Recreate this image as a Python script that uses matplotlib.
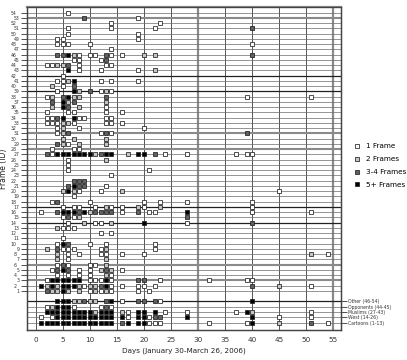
#Frame ID vs day scatter, marker shade = number of frames
import matplotlib
matplotlib.use('Agg')
import matplotlib.pyplot as plt
from matplotlib.lines import Line2D

#frame rows -> days, one dict per frame-count level
one_frame = {54: [6], 53: [19], 52: [14, 23], 51: [6, 14, 22], 50: [6, 19],
             49: [4, 5, 19], 48: [4, 5, 6, 10, 40], 47: [14],
             46: [8, 10, 11, 14, 16], 45: [7, 8, 12], 44: [2, 3, 8, 13, 14],
             43: [8, 12, 19], 42: [5], 41: [4, 5, 12, 14, 19], 40: [5],
             39: [4, 12, 14], 38: [2, 39, 51], 36: [13], 35: [2, 6, 7, 13, 16],
             34: [2, 3, 8, 9, 13, 14], 33: [2, 3, 4, 7, 13, 14, 16],
             32: [4, 8, 20], 31: [4, 12, 14], 29: [6], 28: [3, 7, 8],
             27: [3, 24, 28, 37, 39, 40], 26: [6], 25: [6], 24: [6, 21],
             23: [14], 21: [13], 20: [8, 12, 45], 19: [7],
             18: [3, 10, 20, 23, 28, 40], 17: [5, 7, 8, 11, 14, 16, 20, 40],
             16: [1, 16, 21, 22, 40, 51], 15: [5, 7], 14: [6, 11, 12, 28],
             13: [5, 6, 7], 12: [12, 14], 11: [5], 10: [4, 10, 13, 22],
             9: [5, 6, 7, 12, 22], 8: [6, 8, 12, 13, 16, 20, 54], 7: [6],
             6: [4, 6, 10, 11], 5: [3, 8, 10, 16], 4: [4, 6, 8, 10, 14],
             3: [2, 10, 11, 12, 14, 23, 32, 39, 40],
             2: [9, 14, 16, 19, 20, 22, 51], 1: [10, 12, 14, 19, 21],
             -1: [16, 23], -2: [2, 7, 12, 14], -3: [17, 24, 28, 37, 51],
             -4: [1, 3, 17, 21, 45, 51], -5: [21, 22, 23, 32, 39, 54]}

two_frames = {46: [7, 20, 22], 44: [4, 5], 43: [22], 41: [6], 40: [3],
              39: [8, 13], 38: [3, 7, 8], 37: [6, 13], 36: [3, 8], 33: [5, 6],
              32: [5], 31: [5], 30: [5, 7, 13], 29: [5, 8, 13], 27: [11, 17],
              26: [13], 20: [5, 7, 16], 17: [13, 19, 23], 16: [10], 15: [8],
              14: [9, 14], 13: [4], 9: [2, 13], 8: [4, 51], 7: [4, 13], 6: [13],
              5: [12, 14], 4: [13], 2: [2, 4, 8, 10, 11, 45],
              1: [3, 4, 6, 8, 11, 13], -1: [7, 8, 10, 11], -2: [3],
              -3: [11, 16, 40], -5: [45]}

three_four_frames = {53: [9], 51: [40], 46: [4, 5, 13, 40], 45: [13], 44: [6],
                     40: [7], 39: [10], 38: [5, 13], 37: [3, 7], 36: [6], 34: [4],
                     31: [6, 13, 39], 29: [4], 27: [2, 12, 22], 22: [7, 8, 9],
                     21: [6, 8, 9], 18: [4], 16: [4, 8, 11, 12, 13, 14, 19],
                     15: [6, 28], 14: [40], 10: [6], 9: [4], 6: [5], 5: [4, 6, 13],
                     3: [19, 20], 2: [12, 40], 1: [2], -1: [9, 13, 19, 20, 22],
                     -2: [13], -4: [22, 23], -5: [16, 51]}

five_plus_frames = {46: [6], 43: [6], 41: [7], 39: [7], 38: [6], 37: [5], 36: [5],
                    34: [5, 7], 27: [4, 5, 6, 7, 8, 9, 10, 13, 14, 19, 20],
                    21: [7], 20: [6], 16: [5, 6, 7, 9, 28], 14: [20], 10: [5],
                    5: [5], 3: [3, 4, 5, 6, 7, 8, 13], 2: [1, 3, 5, 6, 7, 13], 1: [5],
                    -1: [4, 5, 6, 14, 40], -2: [4, 5, 6],
                    -3: [2, 3, 4, 5, 6, 7, 8, 9, 10, 12, 13, 14, 19, 20, 22, 39],
                    -4: [4, 5, 6, 7, 8, 9, 10, 11, 12, 13, 14, 16, 19, 20, 28, 40],
                    -5: [1, 2, 3, 4, 5, 6, 7, 8, 9, 10, 11, 12, 13, 14, 17, 19, 20, 40]}

levels = [one_frame, two_frames, three_four_frames, five_plus_frames]
level_names = ['1 Frame', '2 Frames', '3-4 Frames', '5+ Frames']
level_fill = ['white', '#c4c4c4', '#606060', 'black']

frame_ids = list(range(1, 55))
cat_rows = [-1, -2, -3, -4, -5]
cat_names = ['Other (46-54)', 'Opponents (44-45)', 'Muslims (27-43)',
             'West (14-26)', 'Cartoons (1-13)']
day_ticks = list(range(0, 60, 5))

fig = plt.figure(figsize=(4.07, 3.6), dpi=100)
ax = fig.add_axes([0.066, 0.083, 0.772, 0.898])

#grid
for d in day_ticks:
    if d in (30, 55):
        ax.axvline(d, color='#8a8a8a', lw=1.6, zorder=1)
    else:
        ax.axvline(d, color='#555555', lw=0.7, zorder=1)
for r in frame_ids + cat_rows:
    if r in (42, 39, 17, 14, -1):
        ax.axhline(r, color='#202020', lw=0.9, zorder=1)
    elif r in (53, 31, 28, 6, 3):
        ax.axhline(r, color='#8a8a8a', lw=1.5, zorder=1)
    else:
        ax.axhline(r, color='#6a6a6a', lw=0.5, zorder=1)

handles = []
for lev, name, fc in zip(levels, level_names, level_fill):
    xs, ys = [], []
    for row, days in lev.items():
        xs += days
        ys += [row] * len(days)
    ax.plot(xs, ys, ls='none', marker='s', ms=3.0, mfc=fc, mec='#202020',
            mew=0.55, zorder=3)
    handles.append(Line2D([], [], ls='none', marker='s', ms=3.0, mfc=fc,
                          mec='#202020', mew=0.55, label=name))

ax.set_xlim(-1.65, 56.5)
ax.set_ylim(-6.45, 55.1)

ax.set_xticks(day_ticks)
ax.tick_params(axis='x', length=0, pad=5, labelsize=5.2, colors='#333333')
ax.set_xlabel('Days (January 30-March 26, 2006)', fontsize=5.2, labelpad=3,
              color='#222222')

ax.set_yticks(frame_ids)
ax.set_yticklabels([str(i) for i in frame_ids])
ax.tick_params(axis='y', length=4, width=0.6, labelsize=3.3, colors='#333333')
for i, t in enumerate(ax.yaxis.get_major_ticks()):
    t.set_pad(3.5 if (i + 1) % 2 == 0 else 1.2)
ax.set_ylabel('Frame (ID)', fontsize=5.5, labelpad=2, color='#222222')

ax2 = ax.twinx()
ax2.set_ylim(ax.get_ylim())
ax2.set_yticks(cat_rows)
ax2.set_yticklabels(cat_names)
ax2.tick_params(axis='y', length=4, width=0.6, labelsize=3.3, pad=1,
                colors='#333333')

for a in (ax, ax2):
    for s in a.spines.values():
        s.set_color('#444444')
        s.set_linewidth(0.9)
ax.spines['top'].set_color('#8a8a8a')
ax.spines['top'].set_linewidth(1.6)

fig.legend(handles=handles, loc='center left', bbox_to_anchor=(0.862, 0.54),
           frameon=False, fontsize=5.2, handlelength=0.6, handletextpad=1.0,
           labelspacing=0.95, borderpad=0)

plt.savefig('out.png', dpi=100)
